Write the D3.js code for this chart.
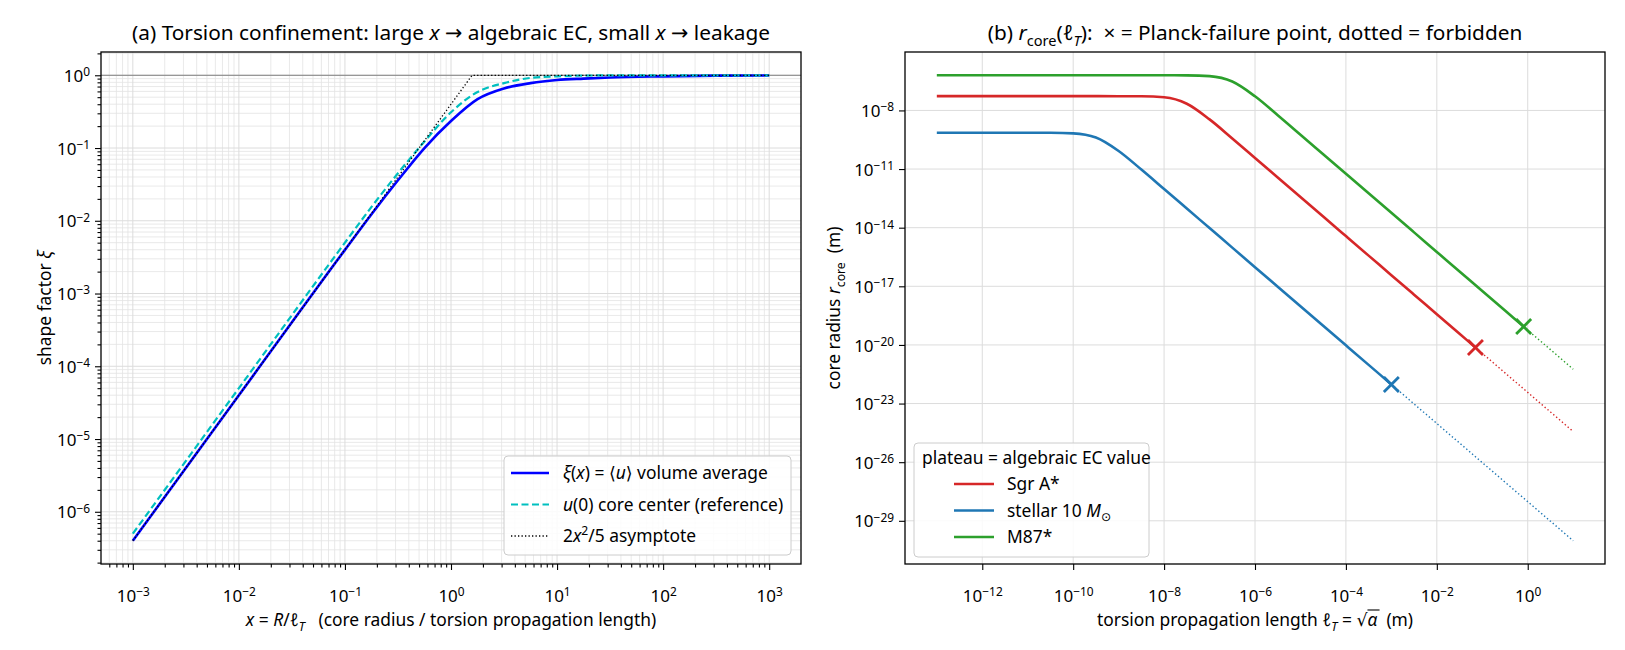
<!DOCTYPE html>
<meta charset="utf-8">
<title>torsion confinement</title>
<script src="https://d3js.org/d3.v7.min.js"></script>
<style>
  body { margin: 0; background: #fff; }
  svg text { font-family: "Noto Sans", "DejaVu Sans", sans-serif; fill: #000; white-space: pre; }
</style>
<body></body>
<script>
// ---- panel (a): shape factor vs x = R/lT ----
var xRatio   = [0.001, 0.01, 0.1, 0.178, 0.316, 0.562, 1, 1.78, 3.16, 5.62, 10, 17.8, 31.6, 100, 316, 1000];
var xiAvg    = [4.0e-7, 4.0e-5, 3.98e-3, 0.0123, 0.036, 0.100, 0.235, 0.47, 0.66, 0.78, 0.86, 0.90, 0.933, 0.966, 0.988, 0.996];
var uCenter  = [5.0e-7, 5.0e-5, 5.0e-3, 0.0155, 0.045, 0.123, 0.31, 0.59, 0.78, 0.92, 0.966, 0.99, 0.997, 1.0, 1.0, 1.0];
var asymX    = [0.001, 1.581, 1000];
var asymY    = [4e-7, 1, 1];

// ---- panel (b): r_core vs lT, values as log10 ----
var lTexp = [-13, -12.5, -12, -11.5, -11, -10.5, -10, -9.5, -9, -8.5, -8, -7.5, -7, -6.5, -6, -5.5,
             -5, -4.5, -4, -3.5, -3, -2.5, -2, -1.5, -1, -0.5, 0, 0.5, 1];
var rSgrExp = [-7.27, -7.27, -7.27, -7.27, -7.27, -7.27, -7.27, -7.27, -7.271, -7.276, -7.329, -7.658, -8.459, -9.433, -10.43, -11.43,
               -12.43, -13.43, -14.43, -15.43, -16.43, -17.43, -18.43, -19.43, -20.43, -21.43, -22.43, -23.43, -24.43];
var rStellarExp = [-9.14, -9.14, -9.14, -9.14, -9.14, -9.143, -9.172, -9.385, -10.074, -11.026, -12.021, -13.02, -14.02, -15.02, -16.02, -17.02,
                   -18.02, -19.02, -20.02, -21.02, -22.02, -23.02, -24.02, -25.02, -26.02, -27.02, -28.02, -29.02, -30.02];
var rM87Exp = [-6.2, -6.2, -6.2, -6.2, -6.2, -6.2, -6.2, -6.2, -6.2, -6.2, -6.2, -6.205, -6.245, -6.522, -7.278, -8.244,
               -9.24, -10.24, -11.24, -12.24, -13.24, -14.24, -15.24, -16.24, -17.24, -18.24, -19.24, -20.24, -21.24];
var crossLExp = [-1.15, -3.0, -0.09];
var crossRExp = [-20.13, -22.02, -19.06];
var bodyColors = ["#d62728", "#1f77b4", "#2ca02c"];

var W = 1625, H = 650;
var svg = d3.select("body").append("svg").attr("width", W).attr("height", H);

var boxA = {x0: 101, x1: 801, y0: 52, y1: 564};
var boxB = {x0: 905, x1: 1605, y0: 52, y1: 564};

var xA = d3.scaleLog().domain([Math.pow(10, -3.3), Math.pow(10, 3.3)]).range([boxA.x0, boxA.x1]);
var yA = d3.scaleLog().domain([Math.pow(10, -6.718), Math.pow(10, 0.32)]).range([boxA.y1, boxA.y0]);
var xB = d3.scaleLog().domain([Math.pow(10, -13.7), Math.pow(10, 1.7)]).range([boxB.x0, boxB.x1]);
var yB = d3.scaleLog().domain([Math.pow(10, -31.21), Math.pow(10, -5.01)]).range([boxB.y1, boxB.y0]);

var fsT = 20.8, fsL = 17.4, fsTick = 17;

// text with italics / sub / superscripts; returns the tspans
function rich(sel, parts, fs) {
  var shift = 0, out = [];
  parts.forEach(function (p) {
    var st = p[1] || "";
    var target = st.indexOf("sub") >= 0 ? 0.28 * fs : st.indexOf("sup") >= 0 ? -0.42 * fs : 0;
    var ts = sel.append("tspan").text(p[0]).attr("dy", target - shift);
    shift = target;
    if (st.indexOf("i") >= 0) ts.style("font-style", "italic");
    if (target !== 0) ts.attr("font-size", fs * 0.7);
    out.push(ts);
  });
  return out;
}
function powLabel(sel, e) {
  sel.text(null);
  sel.append("tspan").text("10");
  sel.append("tspan").attr("dy", "-0.48em").attr("font-size", "0.7em").text(e < 0 ? "\u2212" + (-e) : e);
}
function pows(a, b, step) { var v = []; for (var e = a; e <= b; e += step) v.push(e); return v; }
function minors(a, b) { var v = []; for (var e = a; e <= b; e++) for (var k = 2; k < 10; k++) v.push(k * Math.pow(10, e)); return v; }

function frame(box, x, y, xMaj, yMaj, withMinor, clipId) {
  var g = svg.append("g");
  var xm = minors(-14, 3).filter(function (v) { return v > x.domain()[0] && v < x.domain()[1]; });
  var ym = minors(-32, 1).filter(function (v) { return v > y.domain()[0] && v < y.domain()[1]; });
  if (withMinor) {
    g.selectAll(".gxm").data(xm).enter().append("line")
      .attr("x1", x).attr("x2", x).attr("y1", box.y0).attr("y2", box.y1)
      .attr("stroke", "#e3e3e3").attr("stroke-width", 0.8);
    g.selectAll(".gym").data(ym).enter().append("line")
      .attr("y1", y).attr("y2", y).attr("x1", box.x0).attr("x2", box.x1)
      .attr("stroke", "#e3e3e3").attr("stroke-width", 0.8);
  }
  var xv = xMaj.map(function (e) { return Math.pow(10, e); });
  var yv = yMaj.map(function (e) { return Math.pow(10, e); });
  g.selectAll(".gx").data(xv).enter().append("line")
    .attr("x1", x).attr("x2", x).attr("y1", box.y0).attr("y2", box.y1)
    .attr("stroke", "#dcdcdc").attr("stroke-width", 1);
  g.selectAll(".gy").data(yv).enter().append("line")
    .attr("y1", y).attr("y2", y).attr("x1", box.x0).attr("x2", box.x1)
    .attr("stroke", "#dcdcdc").attr("stroke-width", 1);

  var ax = svg.append("g").attr("transform", "translate(0," + box.y1 + ")")
    .call(d3.axisBottom(x).tickValues(xv).tickSize(6).tickPadding(6).tickFormat(""));
  ax.selectAll(".tick text").each(function (d, i) {
    d3.select(this).attr("font-size", fsTick).attr("y", 0).attr("dy", 37.5); powLabel(d3.select(this), xMaj[i]);
  });
  var ay = svg.append("g").attr("transform", "translate(" + box.x0 + ",0)")
    .call(d3.axisLeft(y).tickValues(yv).tickSize(6).tickPadding(5).tickFormat(""));
  ay.selectAll(".tick text").each(function (d, i) {
    d3.select(this).attr("font-size", fsTick).attr("dy", "0.36em"); powLabel(d3.select(this), yMaj[i]);
  });
  if (withMinor) {
    svg.append("g").attr("transform", "translate(0," + box.y1 + ")")
      .call(d3.axisBottom(x).tickValues(xm).tickSize(3.5).tickFormat(""));
    svg.append("g").attr("transform", "translate(" + box.x0 + ",0)")
      .call(d3.axisLeft(y).tickValues(ym).tickSize(3.5).tickFormat(""));
  }
  svg.selectAll(".domain").remove();
  svg.selectAll(".tick line").attr("stroke", "#000").attr("stroke-width", 1.1);

  svg.append("clipPath").attr("id", clipId).append("rect")
    .attr("x", box.x0).attr("y", box.y0).attr("width", box.x1 - box.x0).attr("height", box.y1 - box.y0);
  return svg.append("g").attr("clip-path", "url(#" + clipId + ")");
}
function spine(box) {
  svg.append("rect").attr("x", box.x0).attr("y", box.y0)
    .attr("width", box.x1 - box.x0).attr("height", box.y1 - box.y0)
    .attr("fill", "none").attr("stroke", "#000").attr("stroke-width", 1.3);
}

// ---------- panel (a) ----------
var plotA = frame(boxA, xA, yA, pows(-3, 3, 1), pows(-6, 0, 1), true, "clipA");
plotA.append("line").attr("x1", boxA.x0).attr("x2", boxA.x1).attr("y1", yA(1)).attr("y2", yA(1))
  .attr("stroke", "#808080").attr("stroke-width", 1);

var lineA = d3.line().curve(d3.curveMonotoneX).x(function (d) { return xA(d[0]); }).y(function (d) { return yA(d[1]); });
plotA.append("path").datum(d3.zip(xRatio, xiAvg)).attr("d", lineA)
  .attr("fill", "none").attr("stroke", "#0000ff").attr("stroke-width", 2.6);
plotA.append("path").datum(d3.zip(xRatio, uCenter)).attr("d", lineA)
  .attr("fill", "none").attr("stroke", "#00bfbf").attr("stroke-width", 2.2).attr("stroke-dasharray", "7,3.5");
plotA.append("path").datum(d3.zip(asymX, asymY)).attr("d", d3.line().x(function (d) { return xA(d[0]); }).y(function (d) { return yA(d[1]); }))
  .attr("fill", "none").attr("stroke", "#000").attr("stroke-width", 1.3).attr("stroke-dasharray", "1.3,2.2");
spine(boxA);

// ---------- panel (b) ----------
var plotB = frame(boxB, xB, yB, pows(-12, 0, 2), pows(-29, -8, 3), false, "clipB");
var lineB = d3.line().curve(d3.curveMonotoneX)
  .x(function (d) { return xB(Math.pow(10, d[0])); }).y(function (d) { return yB(Math.pow(10, d[1])); });
[rSgrExp, rStellarExp, rM87Exp].forEach(function (rs, i) {
  var pts = d3.zip(lTexp, rs);
  var cx = crossLExp[i], cy = crossRExp[i];
  var solid = pts.filter(function (p) { return p[0] < cx; }).concat([[cx, cy]]);
  var dotted = [[cx, cy]].concat(pts.filter(function (p) { return p[0] > cx; }));
  plotB.append("path").datum(solid).attr("d", lineB)
    .attr("fill", "none").attr("stroke", bodyColors[i]).attr("stroke-width", 2.6);
  plotB.append("path").datum(dotted).attr("d", lineB)
    .attr("fill", "none").attr("stroke", bodyColors[i]).attr("stroke-width", 1.4).attr("stroke-dasharray", "1.4,2.4");
  var px = xB(Math.pow(10, cx)), py = yB(Math.pow(10, cy)), s = 7.5;
  plotB.append("path").attr("d", "M" + (px - s) + "," + (py - s) + "L" + (px + s) + "," + (py + s) + "M" + (px - s) + "," + (py + s) + "L" + (px + s) + "," + (py - s))
    .attr("stroke", bodyColors[i]).attr("stroke-width", 2.8).attr("fill", "none");
});
spine(boxB);

// ---------- titles and labels ----------
rich(svg.append("text").attr("x", (boxA.x0 + boxA.x1) / 2).attr("y", 40).attr("text-anchor", "middle").attr("font-size", fsT),
  [["(a) Torsion confinement: large "], ["x", "i"], [" \u2192 algebraic EC, small "], ["x", "i"], [" \u2192 leakage"]], fsT);
rich(svg.append("text").attr("x", (boxB.x0 + boxB.x1) / 2).attr("y", 40).attr("text-anchor", "middle").attr("font-size", fsT),
  [["(b) "], ["r", "i"], ["core", "sub"], ["("], ["\u2113", "i"], ["T", "subi"], ["):  \u00d7 = Planck-failure point, dotted = forbidden"]], fsT);

rich(svg.append("text").attr("x", (boxA.x0 + boxA.x1) / 2).attr("y", 626).attr("text-anchor", "middle").attr("font-size", fsL),
  [["x", "i"], [" = "], ["R", "i"], ["/"], ["\u2113", "i"], ["T", "subi"], ["   (core radius / torsion propagation length)"]], fsL);
var xlabB = rich(svg.append("text").attr("x", (boxB.x0 + boxB.x1) / 2).attr("y", 626).attr("text-anchor", "middle").attr("font-size", fsL),
  [["torsion propagation length "], ["\u2113", "i"], ["T", "subi"], [" = "], ["\u221a"], ["\u03b1", "i"], ["  (m)"]], fsL);
// radical bar over alpha
var rb = xlabB[4].node().getBBox(), ab = xlabB[5].node().getBBox();
svg.append("line").attr("x1", rb.x + rb.width - 1).attr("x2", ab.x + ab.width + 2)
  .attr("y1", rb.y + 3).attr("y2", rb.y + 3).attr("stroke", "#000").attr("stroke-width", 1.1);

rich(svg.append("text").attr("transform", "translate(51," + (boxA.y0 + boxA.y1) / 2 + ") rotate(-90)").attr("text-anchor", "middle").attr("font-size", fsL),
  [["shape factor "], ["\u03be", "i"]], fsL);
rich(svg.append("text").attr("transform", "translate(840," + (boxB.y0 + boxB.y1) / 2 + ") rotate(-90)").attr("text-anchor", "middle").attr("font-size", fsL),
  [["core radius "], ["r", "i"], ["core", "sub"], ["  (m)"]], fsL);

// ---------- legends ----------
var legA = svg.append("g");
legA.append("rect").attr("x", 504).attr("y", 456).attr("width", 287).attr("height", 99).attr("rx", 4)
  .attr("fill", "#fff").attr("fill-opacity", 0.85).attr("stroke", "#cccccc");
var legAItems = [
  {parts: [["\u03be", "i"], ["("], ["x", "i"], [") = \u27e8"], ["u", "i"], ["\u27e9 volume average"]], stroke: "#0000ff", w: 2.6, dash: null},
  {parts: [["u", "i"], ["(0) core center (reference)"]], stroke: "#00bfbf", w: 2.2, dash: "7,3.5"},
  {parts: [["2"], ["x", "i"], ["2", "sup"], ["/5 asymptote"]], stroke: "#000", w: 1.3, dash: "1.3,2.2"}
];
legAItems.forEach(function (it, i) {
  var cy = 473 + i * 31.5;
  legA.append("line").attr("x1", 511).attr("x2", 549).attr("y1", cy).attr("y2", cy)
    .attr("stroke", it.stroke).attr("stroke-width", it.w).attr("stroke-dasharray", it.dash);
  rich(legA.append("text").attr("x", 563).attr("y", cy + 6).attr("font-size", fsL), it.parts, fsL);
});

var legB = svg.append("g");
legB.append("rect").attr("x", 914).attr("y", 443).attr("width", 235).attr("height", 114).attr("rx", 4)
  .attr("fill", "#fff").attr("fill-opacity", 0.85).attr("stroke", "#cccccc");
legB.append("text").attr("x", 922).attr("y", 464).attr("font-size", fsL).text("plateau = algebraic EC value");
var legBNames = [[["Sgr A*"]], [["stellar 10 "], ["M", "i"], ["\u2299", "sub"]], [["M87*"]]];
legBNames.forEach(function (parts, i) {
  var cy = 484 + i * 26.5;
  legB.append("line").attr("x1", 954).attr("x2", 994).attr("y1", cy).attr("y2", cy)
    .attr("stroke", bodyColors[i]).attr("stroke-width", 2.6);
  rich(legB.append("text").attr("x", 1007).attr("y", cy + 6).attr("font-size", fsL), parts, fsL);
});
</script>
